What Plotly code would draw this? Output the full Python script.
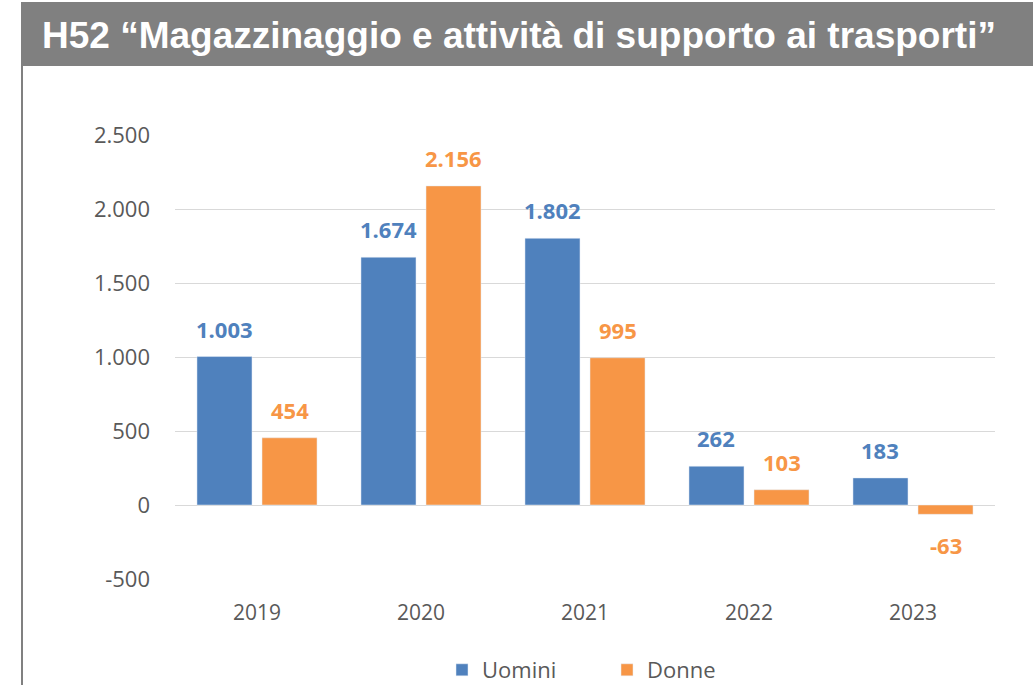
import plotly.graph_objects as go

years = ["2019", "2020", "2021", "2022", "2023"]
uomini = [1003, 1674, 1802, 262, 183]
donne = [454, 2156, 995, 103, -63]
tick_vals = [-500, 0, 500, 1000, 1500, 2000, 2500]
tick_text = ["-500", "0", "500", "1.000", "1.500", "2.000", "2.500"]

BLUE = "#4F81BD"
ORANGE = "#F79646"
GREY = "#595959"

def fmt(v):
    s = f"{abs(v):,}".replace(",", ".")
    return ("-" if v < 0 else "") + s

bargap = 0.207
bargroupgap = 0.154

fig = go.Figure()
fig.add_trace(go.Bar(name="Uomini", x=years, y=uomini, marker_color=BLUE))
fig.add_trace(go.Bar(name="Donne", x=years, y=donne, marker_color=ORANGE))

slot = (1 - bargap) / 2
for i, yr in enumerate(years):
    for vals, col, k in ((uomini, BLUE, -1), (donne, ORANGE, 1)):
        v = vals[i]
        fig.add_annotation(
            x=i + k * slot / 2, y=v, xref="x", yref="y",
            text=f"<b>{fmt(v)}</b>", showarrow=False,
            yanchor="middle", yshift=28 if v >= 0 else -31,
            font=dict(family="Open Sans", size=22, color=col),
        )

# title bar
fig.add_shape(type="rect", xref="paper", yref="paper",
              x0=(21 - 175) / 820, x1=(1040 - 175) / 820,
              y0=(579 - 66) / 444, y1=(579 - 2) / 444,
              fillcolor="#808080", line_width=0, layer="below")
# left vertical line
fig.add_shape(type="line", xref="paper", yref="paper",
              x0=(22 - 175) / 820, x1=(22 - 175) / 820,
              y0=(579 - 690) / 444, y1=(579 - 66) / 444,
              line=dict(color="#808080", width=2))

fig.update_layout(
    width=1033, height=685,
    margin=dict(l=175, r=38, t=135, b=106, autoexpand=False),
    paper_bgcolor="white", plot_bgcolor="white",
    barmode="group", bargap=bargap, bargroupgap=bargroupgap,
    title=dict(text="<b>H52 “Magazzinaggio e attività di supporto ai trasporti”</b>",
               x=42 / 1033, xanchor="left", y=1 - 35 / 685, yanchor="middle",
               font=dict(family="Liberation Sans", size=37, color="white")),
    showlegend=True,
    legend=dict(orientation="h", xref="container", yref="container",
                x=442 / 1033, xanchor="left",
                y=1 - 670 / 685, yanchor="middle",
                font=dict(family="Open Sans", size=22, color=GREY),
                itemwidth=30, traceorder="normal", entrywidth=120),
    xaxis=dict(type="category", showgrid=False, showline=False, ticks="",
               ticklabelstandoff=19, automargin=False,
               tickfont=dict(family="Open Sans", size=21, color=GREY)),
    yaxis=dict(range=[-500, 2500], tickvals=tick_vals, ticktext=tick_text,
               showgrid=True, gridcolor="#D9D9D9", gridwidth=1.3, zeroline=False,
               showline=False, ticks="", ticklabelstandoff=24, automargin=False,
               tickfont=dict(family="Open Sans", size=22, color=GREY)),
)

fig.write_html("out.html", config={"displayModeBar": False},
               post_script="document.body.style.margin='0';")
